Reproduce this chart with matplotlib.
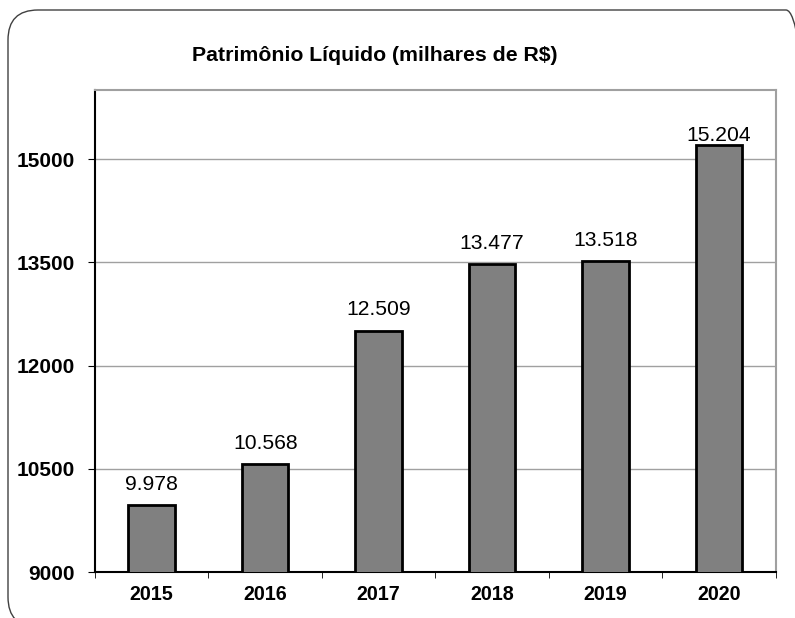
import matplotlib.pyplot as plt
from matplotlib.patches import FancyBboxPatch
from matplotlib.transforms import IdentityTransform

anos = ["2015", "2016", "2017", "2018", "2019", "2020"]
valores = [9978, 10568, 12509, 13477, 13518, 15204]
rotulos = ["9.978", "10.568", "12.509", "13.477", "13.518", "15.204"]
yticks = [9000, 10500, 12000, 13500, 15000]

plt.rcParams['font.family'] = ['Liberation Sans', 'DejaVu Sans']

fig = plt.figure(figsize=(7.95, 6.18), dpi=100)

# moldura arredondada (em pixels), passa das bordas direita e de baixo
frame = FancyBboxPatch((8, -9), 808, 617, boxstyle="round,pad=0,rounding_size=30",
                       transform=IdentityTransform(), fill=False, edgecolor="#404040", linewidth=1.0)
fig.patches.append(frame)

ax = fig.add_axes([0.1195, 0.0744, 0.8565, 0.7795])
x = list(range(len(anos)))
ax.bar(x, valores, width=0.41, color="#808080", edgecolor="black", linewidth=2, zorder=3)

for i, (v, r) in enumerate(zip(valores, rotulos)):
    off = 8 if i < len(valores) - 1 else 0
    ax.annotate(r, (i, v), xytext=(0, off), textcoords="offset points",
                ha="center", va="bottom", fontsize=15.2, zorder=4)

ax.set_ylim(9000, 16000)
ax.set_xlim(-0.5, len(anos) - 0.5)
ax.set_yticks(yticks)
ax.set_yticklabels([str(t) for t in yticks], fontsize=15, fontweight="bold")
ax.set_xticks(x)
ax.set_xticklabels(anos, fontsize=14.2, fontweight="bold")
ax.tick_params(axis="x", length=0, pad=9)
ax.set_xticks([i + 0.5 for i in range(-1, len(anos))], minor=True)
ax.tick_params(axis="x", which="minor", length=4.5, direction="out", color="black")
ax.tick_params(axis="y", length=5, direction="out", color="black", pad=9.4)
ax.grid(axis="y", color="#a0a0a0", linewidth=1, zorder=0)

ax.spines["left"].set_color("black")
ax.spines["bottom"].set_color("black")
ax.spines["top"].set_color("#a0a0a0")
ax.spines["right"].set_color("#a0a0a0")
for s in ax.spines.values():
    s.set_linewidth(1.5)

fig.text(0.472, 0.911, "Patrimônio Líquido (milhares de R$)", ha="center", va="center",
         fontsize=15.3, fontweight="bold")

fig.savefig("out.png", dpi=100)
